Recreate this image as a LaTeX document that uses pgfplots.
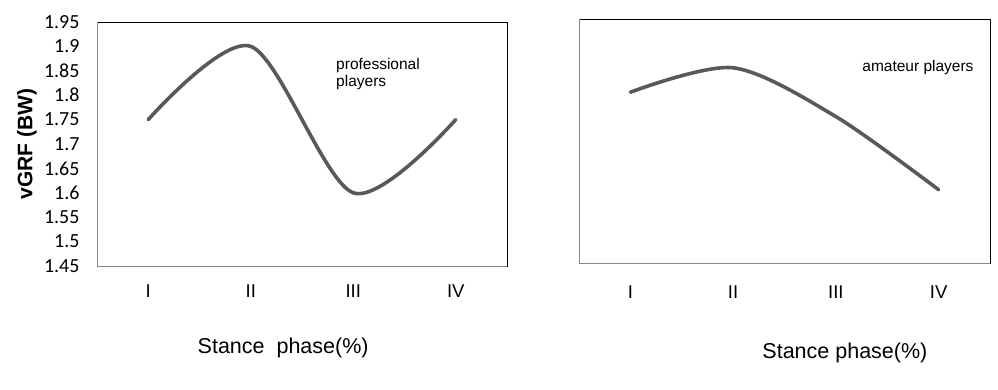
\documentclass[border=0pt]{standalone}
\usepackage{pgfplots}
\pgfplotsset{compat=1.18}
\usepackage{fontspec}
\setmainfont{Liberation Sans}
\newfontfamily\calibri{Carlito}
\definecolor{linegray}{HTML}{595959}
\definecolor{axgray}{HTML}{868686}
\begin{document}
\begin{tikzpicture}
\path[use as bounding box] (0,0) rectangle (998pt,390pt);
\pgfplotsset{
  panel/.style={
    scale only axis, width=410pt, height=244pt,
    xmin=-0.5, xmax=3.5, ymin=1.45, ymax=1.95,
    xtick={0,1,2,3}, xticklabels={I,II,III,IV},
    major tick length=0pt,
    axis line style={black, line width=0.8pt},
    /pgf/number format/assume math mode=true,
    clip=false,
    after end axis/.code={
      \draw[axgray, line width=0.8pt] (rel axis cs:0,1) -- (rel axis cs:0,0) -- (rel axis cs:1,0);
    },
  },
  curve/.style={linegray, line width=3.6pt, line cap=round, smooth, no marks},
}
\begin{axis}[panel, at={(97pt,124pt)}, anchor=south west,
  xticklabel style={font=\fontsize{18.5}{20}\selectfont, anchor=north, yshift=-15.5pt},
  ytick={1.45,1.5,1.55,1.6,1.65,1.7,1.75,1.8,1.85,1.9,1.95},
  yticklabels={1.45,1.5,1.55,1.6,1.65,1.7,1.75,1.8,1.85,1.9,1.95},
  yticklabel style={font=\calibri\fontsize{20}{22}\selectfont, anchor=east, xshift=-14pt},
  ylabel={\bfseries vGRF (BW)},
  ylabel style={font=\fontsize{21}{23}\selectfont, at={(axis description cs:-0.171,0.5)}, anchor=center},
  xlabel={Stance\ \ phase(\%)},
  xlabel style={font=\fontsize{21.5}{23}\selectfont, at={(axis description cs:0.454,0)}, anchor=center, yshift=-82pt},
]
\addplot[curve] coordinates {(0,1.75) (1,1.90) (2,1.60) (3,1.75)};
\node[anchor=north west, align=left, font=\fontsize{15.5}{17}\selectfont, inner sep=0pt] at (rel axis cs:0.583,0.852) {professional\\players};
\end{axis}
\begin{axis}[panel, at={(579pt,127pt)}, anchor=south west, width=411pt,
  xticklabel style={font=\fontsize{18.5}{20}\selectfont, anchor=north, yshift=-19.5pt},
  ytick=\empty,
  xlabel={Stance phase(\%)},
  xlabel style={font=\fontsize{21.5}{23}\selectfont, at={(axis description cs:0.647,0)}, anchor=center, yshift=-90pt},
]
\addplot[curve] coordinates {(0,1.80) (1,1.85) (2,1.75) (3,1.60)};
\node[anchor=west, font=\fontsize{15.5}{17}\selectfont, inner sep=0pt] at (rel axis cs:0.689,0.803) {amateur players};
\end{axis}
\end{tikzpicture}
\end{document}
